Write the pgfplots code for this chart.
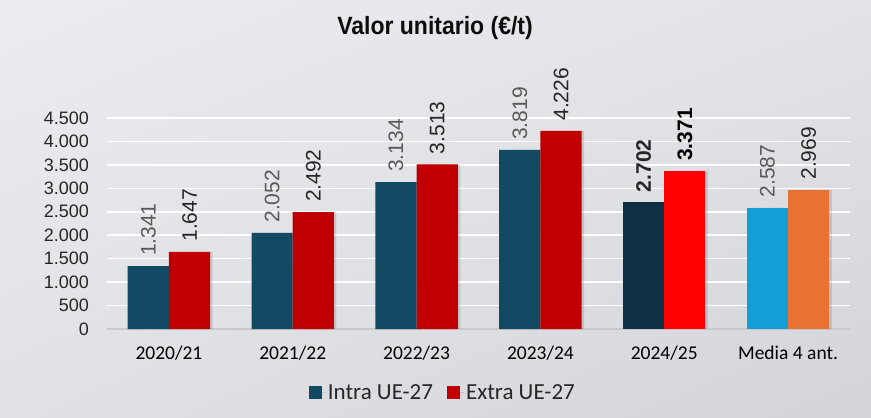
\documentclass[border=0pt]{standalone}
\usepackage{pgfplots}
\pgfplotsset{compat=1.18}
\usetikzlibrary{shadings}
\usepackage{fontspec}
\setmainfont{Liberation Sans}
\newfontfamily\calibri{Carlito}
\definecolor{intra}{HTML}{134A63}
\definecolor{intraB}{HTML}{0E3043}
\definecolor{intraC}{HTML}{139ED6}
\definecolor{extra}{HTML}{C00000}
\definecolor{extraB}{HTML}{FF0000}
\definecolor{extraC}{HTML}{E97132}
\definecolor{lblgray}{HTML}{595959}
\definecolor{lbldark}{HTML}{262626}
\definecolor{bgUL}{HTML}{ECEDF0}
\definecolor{bgUR}{HTML}{E2E3E7}
\definecolor{bgLL}{HTML}{E0E1E5}
\definecolor{bgLR}{HTML}{D3D5DA}
\definecolor{axline}{HTML}{C8C9CD}
\pgfplotsset{sqlegend/.style={legend image code/.code={\fill[##1] (0pt,-6.5pt) rectangle (13pt,6.5pt); \path (0pt,0pt) -- (17pt,0pt);}}}
\pgfplotsset{lbl/.style={nodes near coords, nodes near coords style={rotate=90, anchor=west, inner xsep=10pt, inner ysep=0pt, #1}}}
\begin{document}
\begin{tikzpicture}
\shade[upper left=bgUL, upper right=bgUR, lower left=bgLL, lower right=bgLR] (-107pt,-89pt) rectangle (764pt,329pt);
\begin{axis}[
  at={(0pt,0pt)}, anchor=south west,
  scale only axis, width=743pt, height=211pt,
  xmin=-0.5, xmax=5.5, ymin=0, ymax=4500,
  xtick={0,...,5},
  xticklabels={2020/21,2021/22,2022/23,2023/24,2024/25,Media 4 ant.},
  ytick={0,500,...,4500},
  major tick length=0pt,
  axis x line*=bottom, axis y line*=left,
  y axis line style={draw=none},
  x axis line style={draw=axline, line width=1.5pt},
  ymajorgrids, grid style={white, line width=1.5pt},
  yticklabel style={font=\fontsize{18}{18}\selectfont, text=lbldark, inner sep=0pt, xshift=-18pt},
  xticklabel style={font=\calibri\fontsize{19.5}{19.5}\selectfont, text=black, inner sep=0pt, yshift=-17pt},
  /pgf/number format/1000 sep={.},
  /pgf/number format/assume math mode=true,
  clip=false,
  legend style={at={(axis description cs:0.452,-0.303)}, anchor=center, draw=none, fill=none,
    legend columns=2, font=\calibri\fontsize{23}{23}\selectfont, text=lbldark,
    /tikz/every even column/.append style={column sep=12pt}},
  legend cell align=left,
]
% soft shadows
\addplot[ybar, forget plot, bar width=0.333, bar shift=2.5pt, fill=black, fill opacity=0.10, draw=none]
  coordinates {(-0.1665,1341) (0.8335,2052) (1.8335,3134) (2.8335,3819) (3.8335,2702) (4.8335,2587)};
\addplot[ybar, forget plot, bar width=0.333, bar shift=2.5pt, fill=black, fill opacity=0.12, draw=none]
  coordinates {(0.1665,1647) (1.1665,2492) (2.1665,3513) (3.1665,4226) (4.1665,3371) (5.1665,2969)};
\addplot[ybar, sqlegend, bar width=0.333, bar shift=0, fill=intra, draw=none, lbl={text=lblgray, font=\fontsize{21}{21}\selectfont}]
  coordinates {(-0.1665,1341) (0.8335,2052) (1.8335,3134) (2.8335,3819)};
\addlegendentry{Intra UE-27}
\addplot[ybar, sqlegend, bar width=0.333, bar shift=0, fill=extra, draw=none, lbl={text=lbldark, font=\fontsize{21}{21}\selectfont}]
  coordinates {(0.1665,1647) (1.1665,2492) (2.1665,3513) (3.1665,4226)};
\addlegendentry{Extra UE-27}
\addplot[ybar, forget plot, bar width=0.333, bar shift=0, fill=intraB, draw=none, lbl={text=lbldark, font=\bfseries\fontsize{21}{21}\selectfont}]
  coordinates {(3.8335,2702)};
\addplot[ybar, forget plot, bar width=0.333, bar shift=0, fill=extraB, draw=none, lbl={text=black, font=\bfseries\fontsize{21}{21}\selectfont}]
  coordinates {(4.1665,3371)};
\addplot[ybar, forget plot, bar width=0.333, bar shift=0, fill=intraC, draw=none, lbl={text=lblgray, font=\fontsize{21}{21}\selectfont}]
  coordinates {(4.8335,2587)};
\addplot[ybar, forget plot, bar width=0.333, bar shift=0, fill=extraC, draw=none, lbl={text=lbldark, font=\fontsize{21}{21}\selectfont}]
  coordinates {(5.1665,2969)};
\node[font=\bfseries\fontsize{25}{25}\selectfont, text=black!95] at (axis description cs:0.4415,1.425) {\scalebox{0.92}[1]{Valor unitario (€/t)}};
\end{axis}
\end{tikzpicture}
\end{document}
